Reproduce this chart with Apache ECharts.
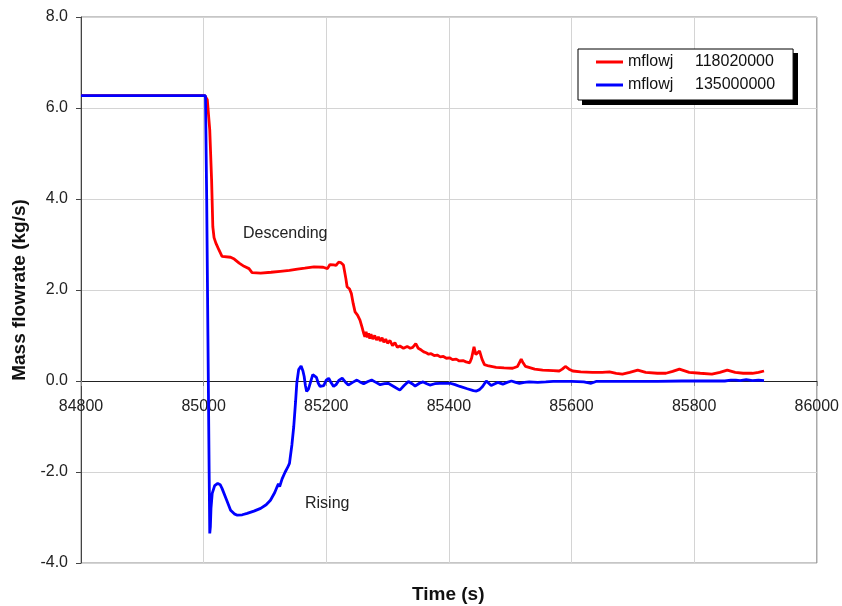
<!DOCTYPE html>
<html>
<head>
<meta charset="utf-8">
<script src="https://cdn.jsdelivr.net/npm/echarts@6/dist/echarts.min.js"></script>
<style>html,body{margin:0;padding:0;background:#fff}#c{width:842px;height:606px}</style>
</head>
<body>
<div id="c"></div>
<script>
// Series 1: mflowj 118020000 (red, "Descending")
const redT = [84800,85002,85006,85010,85013,85015,85017,85020,85025,85030,85044,85050,85058,85066,85074,85079,85093,85110,85125,85140,85153,85165,85180,85195,85202,85206,85209,85212,85216,85220,85224,85228,85232,85234,85238,85241,85244,85247,85251,85255,85258,85261,85263,85265,85267,85269,85271,85273,85276,85279,85282,85285,85288,85291,85294,85297,85300,85304,85308,85312,85316,85320,85326,85332,85337,85341,85346,85350,85355,85359,85363,85367,85371,85376,85381,85386,85391,85396,85401,85406,85412,85417,85423,85428,85434,85437,85441,85444,85447,85450,85454,85458,85465,85477,85490,85504,85512,85518,85521,85525,85540,85553,85570,85580,85585,85590,85596,85602,85615,85634,85650,85662,85673,85683,85695,85708,85721,85740,85754,85765,85776,85792,85810,85829,85842,85854,85867,85880,85895,85905,85914];
const redV = [6.27,6.27,6.18,5.52,4.42,3.39,3.15,3.03,2.88,2.74,2.72,2.68,2.59,2.52,2.47,2.38,2.37,2.39,2.41,2.43,2.46,2.48,2.51,2.50,2.47,2.56,2.52,2.55,2.54,2.61,2.60,2.55,2.25,2.07,2.02,1.92,1.70,1.52,1.45,1.34,1.20,1.05,0.97,1.08,0.96,1.05,0.93,1.03,0.92,1.00,0.90,0.97,0.88,0.95,0.85,0.92,0.83,0.89,0.78,0.84,0.74,0.77,0.72,0.76,0.72,0.74,0.82,0.72,0.68,0.64,0.62,0.59,0.60,0.56,0.57,0.53,0.54,0.50,0.51,0.47,0.48,0.44,0.45,0.42,0.40,0.50,0.75,0.58,0.60,0.66,0.48,0.36,0.33,0.30,0.29,0.28,0.32,0.48,0.40,0.32,0.26,0.24,0.23,0.22,0.26,0.32,0.26,0.22,0.20,0.19,0.19,0.20,0.17,0.15,0.19,0.24,0.19,0.17,0.17,0.21,0.26,0.19,0.17,0.15,0.19,0.24,0.19,0.17,0.17,0.19,0.22];

// Series 2: mflowj 135000000 (blue, "Rising")
const blueT = [84800,85003,85005,85007,85009,85010,85011,85012,85014,85018,85023,85027,85030,85037,85044,85050,85055,85063,85071,85082,85093,85102,85109,85116,85120,85122,85124,85128,85133,85137,85140,85144,85147,85150,85152,85155,85159,85162,85164,85166,85168,85171,85174,85178,85181,85184,85187,85190,85193,85196,85200,85204,85208,85212,85216,85221,85226,85231,85236,85243,85250,85255,85261,85268,85274,85281,85288,85295,85301,85310,85320,85327,85334,85340,85345,85352,85358,85364,85369,85377,85385,85395,85402,85410,85418,85430,85440,85445,85450,85455,85461,85465,85469,85475,85480,85488,85495,85502,85509,85515,85523,85531,85545,85558,85570,85585,85600,85620,85632,85640,85660,85700,85740,85780,85820,85850,85860,85868,85875,85885,85895,85905,85914];
const blueV = [6.27,6.27,4.0,1.0,-2.0,-3.35,-3.2,-2.8,-2.47,-2.30,-2.25,-2.28,-2.36,-2.60,-2.84,-2.92,-2.95,-2.94,-2.91,-2.86,-2.80,-2.72,-2.62,-2.45,-2.32,-2.26,-2.32,-2.15,-2.00,-1.90,-1.81,-1.40,-1.00,-0.45,-0.04,0.25,0.33,0.22,0.10,-0.10,-0.23,-0.18,-0.04,0.14,0.17,0.08,-0.05,-0.12,-0.16,-0.10,0.02,0.06,-0.04,-0.12,-0.08,0.02,0.06,-0.02,-0.09,-0.03,0.02,-0.02,-0.06,-0.01,0.02,-0.03,-0.08,-0.06,-0.05,-0.12,-0.20,-0.10,-0.01,-0.06,-0.11,-0.05,-0.02,-0.06,-0.09,-0.06,-0.05,-0.05,-0.05,-0.08,-0.12,-0.17,-0.21,-0.22,-0.19,-0.12,0.00,-0.05,-0.10,-0.06,-0.03,-0.07,-0.03,0.00,-0.03,-0.05,-0.03,-0.02,-0.03,-0.02,-0.01,-0.01,-0.01,-0.02,-0.05,-0.01,-0.01,-0.01,-0.01,0.00,0.00,0.00,0.02,0.02,0.01,0.03,0.01,0.02,0.01];

const seriesNames = ['mflowj 118020000', 'mflowj 135000000'];
const seriesColors = ['#ff0000', '#0000ff'];
const xTicks = {min: 84800, max: 86000, step: 200};
const yTicks = {min: -4, max: 8, step: 2};
const annotations = ['Descending', 'Rising'];

const zip = (t, v) => t.map((x, i) => [x, v[i]]);
const FONT = 'Liberation Sans, Arial, sans-serif';

const GRID = {left: 81, right: 24, top: 17, bottom: 43};
const plotH = 606 - GRID.top - GRID.bottom;
// distance (px) from the bottom of the plot to the y = 0 line, from the axis scale
const zeroOffset = plotH * (0 - yTicks.min) / (yTicks.max - yTicks.min);

const chart = echarts.init(document.getElementById('c'), null, {renderer: 'canvas'});
chart.setOption({
  animation: false,
  backgroundColor: '#fff',
  grid: Object.assign({show: true, borderColor: '#8c8c8c', borderWidth: 1}, GRID),
  xAxis: {
    type: 'value', min: xTicks.min, max: xTicks.max, interval: xTicks.step,
    offset: -zeroOffset,
    axisLine: {show: true, onZero: false, lineStyle: {color: '#222', width: 1}},
    axisTick: {show: true, length: 5, lineStyle: {color: '#888'}},
    axisLabel: {fontSize: 16, color: '#222', fontFamily: FONT, margin: 18, formatter: v => String(v)},
    splitLine: {show: true, lineStyle: {color: '#d4d4d4', width: 1}}
  },
  yAxis: {
    type: 'value', min: yTicks.min, max: yTicks.max, interval: yTicks.step,
    name: 'Mass flowrate (kg/s)', nameLocation: 'middle', nameGap: 45,
    nameTextStyle: {fontSize: 19, fontWeight: 'bold', color: '#111', fontFamily: FONT},
    axisLine: {show: true, onZero: false, lineStyle: {color: '#444', width: 1}},
    axisTick: {show: true, length: 5, lineStyle: {color: '#444'}},
    axisLabel: {fontSize: 16, color: '#222', fontFamily: FONT, margin: 13, formatter: v => v.toFixed(1)},
    splitLine: {show: true, lineStyle: {color: '#d4d4d4', width: 1}}
  },
  legend: {
    orient: 'vertical', left: 578, top: 49, z: 6,
    data: seriesNames,
    icon: 'rect', itemWidth: 27, itemHeight: 3, itemGap: 7,
    padding: [5, 18, 7, 18],
    backgroundColor: '#fff', borderColor: '#000', borderWidth: 1, borderRadius: 0,
    formatter: name => {
      const p = name.split(' ');
      return '{a|' + p[0] + '}{b|' + p[1] + '}';
    },
    textStyle: {
      fontSize: 16, color: '#111', fontFamily: FONT,
      rich: {a: {width: 67, fontSize: 16, fontFamily: FONT, color: '#111'}, b: {fontSize: 16, fontFamily: FONT, color: '#111'}}
    }
  },
  graphic: [
    {type: 'rect', left: 582, top: 53, z: 5, shape: {width: 216, height: 52}, style: {fill: '#000'}},
    {type: 'text', left: 412, top: 585, z: 10, style: {text: 'Time (s)', fontSize: 19, fontWeight: 'bold', fill: '#111', fontFamily: FONT}},
    {type: 'text', left: 243, top: 226, z: 10, style: {text: annotations[0], fontSize: 16, fill: '#222', fontFamily: FONT}},
    {type: 'text', left: 305, top: 496, z: 10, style: {text: annotations[1], fontSize: 16, fill: '#222', fontFamily: FONT}}
  ],
  series: [
    {name: seriesNames[0], type: 'line', data: zip(redT, redV), showSymbol: false, symbol: 'none',
     lineStyle: {color: seriesColors[0], width: 2.8}, itemStyle: {color: seriesColors[0]}, z: 3},
    {name: seriesNames[1], type: 'line', data: zip(blueT, blueV), showSymbol: false, symbol: 'none',
     lineStyle: {color: seriesColors[1], width: 2.8}, itemStyle: {color: seriesColors[1]}, z: 4}
  ]
});
</script>
</body>
</html>
